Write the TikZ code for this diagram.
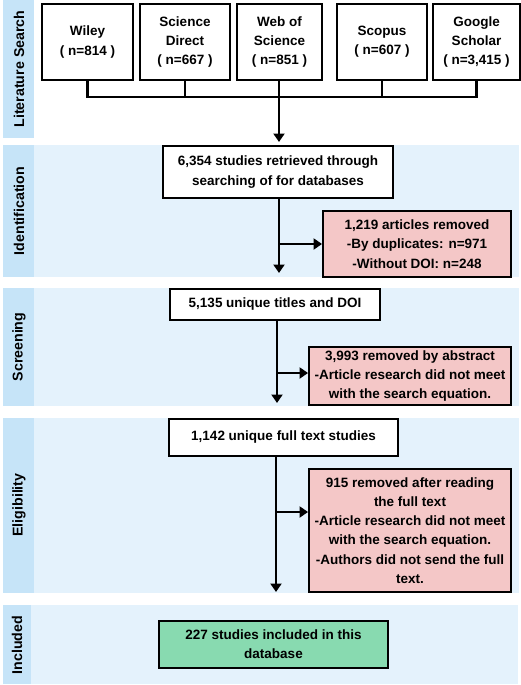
\documentclass[tikz,border=0pt]{standalone}
\usepackage{fontspec}
\setmainfont{Liberation Sans}
\usetikzlibrary{arrows.meta}
\definecolor{stripblue}{RGB}{198,228,248}
\definecolor{panelblue}{RGB}{228,242,252}
\definecolor{removedred}{RGB}{244,199,199}
\definecolor{includedgreen}{RGB}{136,218,176}

\begin{document}
\begin{tikzpicture}[x=1pt,y=-1pt,
    box/.style={draw=black, line width=1.9pt, fill=white, align=center, inner sep=0pt,
      font=\bfseries\fontsize{13.5}{19.3}\selectfont},
    stage/.style={rotate=90, font=\bfseries\fontsize{14.2}{16}\selectfont},
    link/.style={line width=2.4pt},
    flow/.style={link, -{Triangle[width=11pt,length=8.5pt]}}]
    \useasboundingbox (0,0) rectangle (521,685);

    \fill[stripblue] (3,0) rectangle (34,138);
    \fill[panelblue] (34,145) rectangle (519,277);
    \fill[stripblue] (3,145) rectangle (34,277);
    \fill[panelblue] (34,288) rectangle (519,406);
    \fill[stripblue] (3,288) rectangle (34,406);
    \fill[panelblue] (34,418) rectangle (519,593);
    \fill[stripblue] (3,418) rectangle (34,593);
    \fill[panelblue] (31,605) rectangle (518,684);
    \fill[stripblue] (3,605) rectangle (31,684);

    \node[stage] (litlabel) at (19,69) {Literature Search};
    \node[stage] (idlabel) at (19,211) {Identification};
    \node[stage] (scrlabel) at (19,347) {Screening};
    \node[stage] (eliglabel) at (19,505) {Eligibility};
    \node[stage] (inclabel) at (17,645) {Included};

    \node[box, minimum width=91pt, minimum height=76pt] (wiley) at (87.5,42) {Wiley\\( n=814 )};
    \node[box, minimum width=90pt, minimum height=76pt] (sdirect) at (185,42) {Science\\Direct\\( n=667 )};
    \node[box, minimum width=85pt, minimum height=76pt] (wos) at (279.5,42) {Web of\\Science\\( n=851 )};
    \node[box, minimum width=90pt, minimum height=76pt] (scopus) at (382,42) {Scopus\\( n=607 )};
    \node[box, minimum width=87pt, minimum height=76pt] (gscholar) at (476.5,42) {Google\\Scholar\\( n=3,415 )};

    \coordinate (merge) at (279,97);
    \coordinate (idtop) at (279,142);

    \node[box, minimum width=230pt, minimum height=52pt] (retrieved) at (278,172)
      {6,354 studies retrieved through\\searching of for databases};
    \node[box, fill=removedred, minimum width=188pt, minimum height=66pt] (dupl) at (417,244)
      {1,219 articles removed\\-By duplicates: n=971\\-Without DOI: n=248};
    \coordinate (idend) at (279,273);

    \node[box, minimum width=210pt, minimum height=31pt] (unique) at (275,304.5)
      {5,135 unique titles and DOI};
    \node[box, fill=removedred, minimum width=202pt, minimum height=58pt] (abstract) at (410,376)
      {3,993 removed by abstract\\-Article research did not meet\\with the search equation.};
    \coordinate (scrend) at (277,403);

    \node[box, minimum width=229pt, minimum height=37pt] (fulltext) at (283.5,437.5)
      {1,142 unique full text studies};
    \node[box, fill=removedred, minimum width=202pt, minimum height=123pt] (reading) at (410,530.5)
      {915 removed after reading\\the full text\\-Article research did not meet\\with the search equation.\\-Authors did not send the full\\text.};
    \coordinate (eligend) at (276,592);
    \coordinate (eligbranch) at (276,512);

    \node[box, fill=includedgreen, minimum width=229pt, minimum height=47pt] (included) at (273.5,644.5)
      {227 studies included in this\\database};

    \draw[link] (wiley.south) -- (wiley.south |- merge) -- (gscholar.south |- merge) -- (gscholar.south);
    \draw[link] (sdirect.south) -- (sdirect.south |- merge);
    \draw[link] (scopus.south) -- (scopus.south |- merge);
    \draw[flow] (wos.south -| merge) -- (idtop);

    \draw[flow] (retrieved.south -| idend) -- (idend);
    \draw[flow] (idend |- dupl.west) -- (dupl.west);

    \draw[flow] (unique.south -| scrend) -- (scrend);
    \draw[flow] (277,373) -- (abstract.west |- 0,373);

    \draw[flow] (fulltext.south -| eligend) -- (eligend);
    \draw[flow] (eligbranch) -- (reading.west |- eligbranch);
\end{tikzpicture}
\end{document}
